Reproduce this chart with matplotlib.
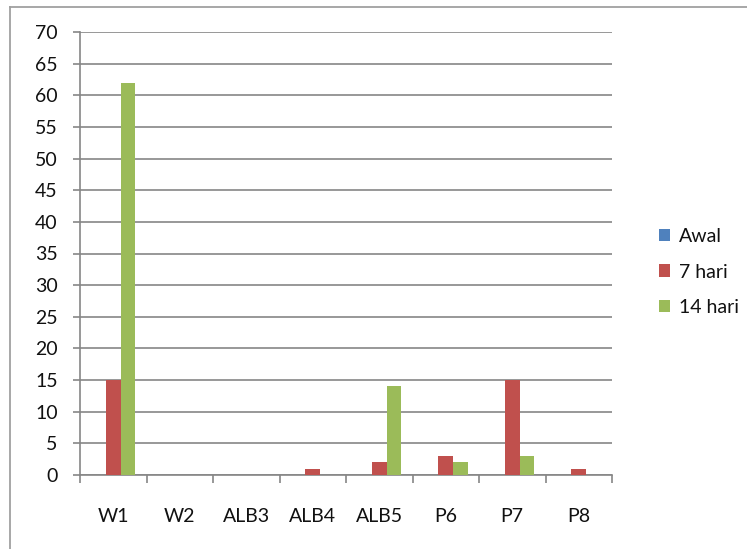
import matplotlib.pyplot as plt
import numpy as np
from matplotlib.lines import Line2D
from matplotlib.patches import Patch

# sample codes and counts per observation day
labels = ["W1", "W2", "ALB3", "ALB4", "ALB5", "P6", "P7", "P8"]
awal = [0, 0, 0, 0, 0, 0, 0, 0]
hari7 = [15, 0, 0, 1, 2, 3, 15, 1]
hari14 = [62, 0, 0, 0, 14, 2, 3, 0]

series_names = ["Awal", "7 hari", "14 hari"]
colors = ["#4F81BD", "#C0504D", "#9BBB59"]

plt.rcParams['font.family'] = ['Lato', 'DejaVu Sans']
fs = 14

fig = plt.figure(figsize=(7.47, 5.49), dpi=100)
ax = fig.add_axes([80 / 747, 1 - 475 / 549, 532 / 747, 443 / 549])

x = np.arange(len(labels))
w = 1 / 4.5
for i, vals in enumerate([awal, hari7, hari14]):
    ax.bar(x + (i - 1) * w, vals, width=w, color=colors[i], zorder=3)

ax.set_xlim(-0.5, len(labels) - 0.5)
ax.set_ylim(0, 70)
ax.set_yticks(range(0, 71, 5))
ax.yaxis.grid(True, color="#868686", linewidth=1.2, zorder=0)

ax.set_xticks(x)
ax.set_xticklabels(labels, fontsize=fs, color="#111111")
ax.set_xticks(np.arange(-0.5, len(labels)), minor=True)
ax.tick_params(axis="x", which="major", length=0, pad=24)
ax.tick_params(axis="x", which="minor", length=6, width=1.2, color="#868686")
ax.tick_params(axis="y", length=5, width=1.2, color="#868686", pad=11,
               labelsize=fs, labelcolor="#111111")

for side in ["top", "right"]:
    ax.spines[side].set_visible(False)
for side in ["left", "bottom"]:
    ax.spines[side].set_color("#868686")
    ax.spines[side].set_linewidth(1.2)

handles = [Patch(facecolor=c) for c in colors]
fig.legend(handles, series_names, loc="center left", bbox_to_anchor=(641 / 747, 1 - 272 / 549),
           frameon=False, fontsize=fs, handlelength=0.6, handleheight=0.6,
           handletextpad=0.45, labelspacing=0.95, labelcolor="#111111")

# chart frame
fig.add_artist(Line2D([10 / 747, 1], [1 - 7 / 549] * 2, color="#a0a0a0", linewidth=1.3))
fig.add_artist(Line2D([10 / 747] * 2, [0, 1 - 7 / 549], color="#a0a0a0", linewidth=1.3))

plt.savefig("out.png", dpi=100)
